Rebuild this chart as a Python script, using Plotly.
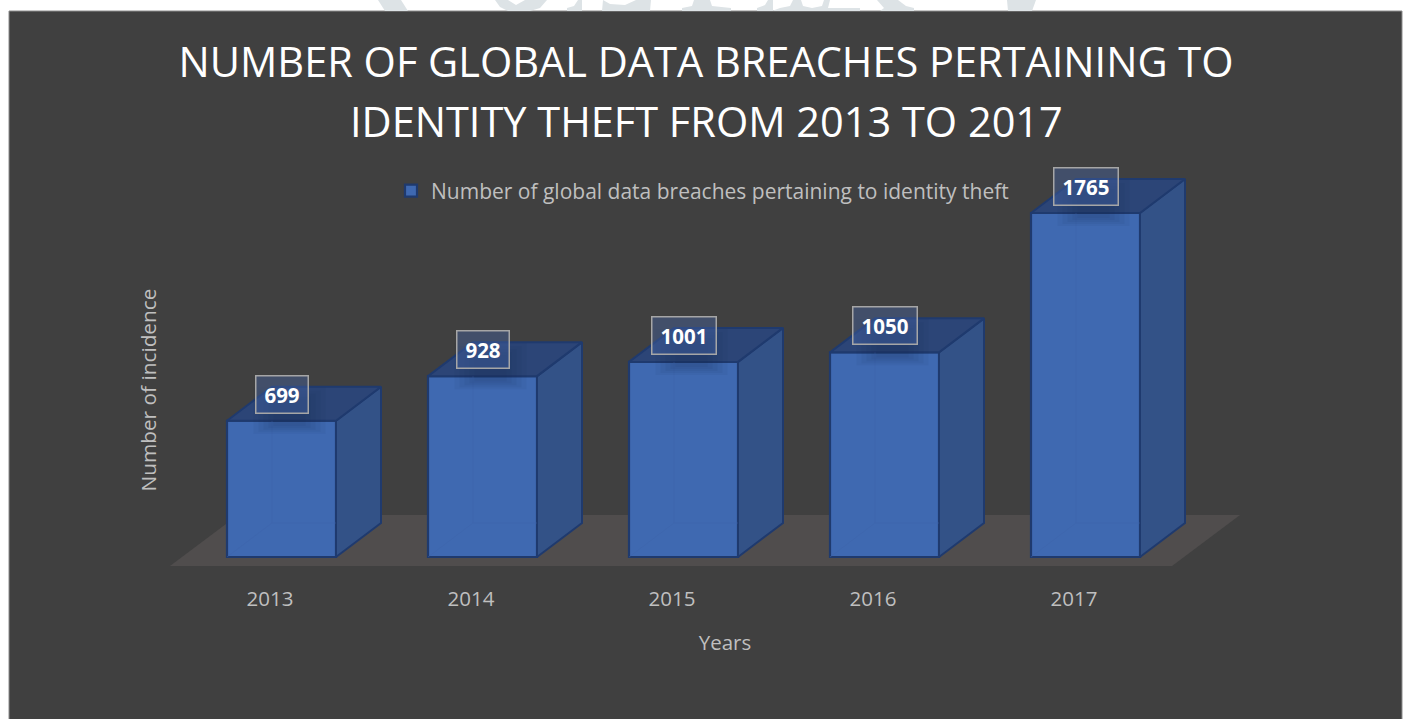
import plotly.graph_objects as go

# Chart data
years = [2013, 2014, 2015, 2016, 2017]
incidents = [699, 928, 1001, 1050, 1765]
series_name = "Number of global data breaches pertaining to identity theft"
title_line_1 = "NUMBER OF GLOBAL DATA BREACHES PERTAINING TO"
title_line_2 = "IDENTITY THEFT FROM 2013 TO 2017"

W, H = 1405, 719

# Scale of the axes, in pixels per data unit
PX_X = 201.0
PX_Y = 344.0 / 1765.0
X0_PX = 270.0    # pixel of the first year tick
Y0_PX = 557.0    # pixel of the zero line


def dx(px):
    return px / PX_X


def dy(px):
    return px / PX_Y


def fx(px):
    return px / W


def fy(px):
    return 1 - px / H


def data_x(px):
    return years[0] + (px - X0_PX) / PX_X


def data_y(px):
    return (Y0_PX - px) / PX_Y


# Bar box geometry in data units
BAR_W = dx(109)
BAR_OFF = dx(-43)
DEPTH_X = dx(45)
DEPTH_Y = dy(34)

BG = "#404040"
FRONT = "#3f69b1"
SIDE = "#335287"
TOP = "#2c4577"
EDGE = "#1f3a6e"
FLOOR = "#504d4d"
TEXT = "#bfbfbf"

# Axis spans: centred so the axis titles land in the middle of each span
L_PX, R_PX = 170.0, 1280.0
B_PX, T_PX = 620.0, 160.0
FLOOR_FRONT_PX = 566.0

fig = go.Figure()

# Front faces
fig.add_trace(go.Bar(
    x=years, y=incidents, width=BAR_W, offset=BAR_OFF, name=series_name,
    marker=dict(color=FRONT, line=dict(color=EDGE, width=2.2)),
    hoverinfo="x+y", showlegend=True,
))

# Right and top faces and the faint hidden edges, all derived from the values
for year, value in zip(years, incidents):
    x1 = year + BAR_OFF
    x2 = x1 + BAR_W
    fig.add_trace(go.Scatter(
        x=[x2, x2 + DEPTH_X, x2 + DEPTH_X, x2, x2],
        y=[0, DEPTH_Y, value + DEPTH_Y, value, 0],
        mode="lines", fill="toself", fillcolor=SIDE,
        line=dict(color=EDGE, width=2),
        showlegend=False, hoverinfo="skip",
    ))
    fig.add_trace(go.Scatter(
        x=[x1, x1 + DEPTH_X, x2 + DEPTH_X, x2, x1],
        y=[value, value + DEPTH_Y, value + DEPTH_Y, value, value],
        mode="lines", fill="toself", fillcolor=TOP,
        line=dict(color=EDGE, width=2),
        showlegend=False, hoverinfo="skip",
    ))
    fig.add_trace(go.Scatter(
        x=[x1, x1 + DEPTH_X, x2, None, x1 + DEPTH_X, x1 + DEPTH_X],
        y=[0, DEPTH_Y, DEPTH_Y, None, DEPTH_Y, value],
        mode="lines", line=dict(color="rgba(62,100,170,0.45)", width=1),
        showlegend=False, hoverinfo="skip",
    ))

# Soft shadow cast by each value label: nested translucent rectangles
for step in range(5):
    xs, ys = [], []
    for year, value in zip(years, incidents):
        cx = year + BAR_OFF + BAR_W / 2 + dx(8)
        half = dx(36 - 5 * step)
        top = value + DEPTH_Y - dy(1 + 3 * step)
        bottom = value - dy(13 - 2 * step)
        xs += [cx - half, cx + half, cx + half, cx - half, cx - half, None]
        ys += [bottom, bottom, top, top, bottom, None]
    fig.add_trace(go.Scatter(
        x=xs, y=ys, mode="none", fill="toself", fillcolor="rgba(20,35,70,0.055)",
        showlegend=False, hoverinfo="skip",
    ))

# Value labels sitting above each bar
annotations = []
for year, value in zip(years, incidents):
    text = str(value)
    annotations.append(dict(
        x=year + BAR_OFF + BAR_W / 2, y=value + dy(26.5), xref="x", yref="y",
        text=f"<b>{text}</b>", showarrow=False,
        font=dict(family="Open Sans", size=20.5, color="white"),
        bgcolor="rgba(70,100,165,0.42)",
        bordercolor="#a6a6a6", borderwidth=1.5,
        width=51 if len(text) == 3 else 63, height=36, borderpad=0,
        xanchor="center", yanchor="middle", valign="middle",
    ))

# Second title line
annotations.append(dict(
    x=fx(706), y=fy(121), xref="paper", yref="paper", text=title_line_2,
    showarrow=False, xanchor="center", yanchor="middle",
    font=dict(family="Open Sans", size=41.5, color="white"),
))

# Panel, floor and the pale letter fragments along the top edge
shapes = [
    dict(type="rect", xref="paper", yref="paper", layer="below",
         x0=fx(9), x1=fx(1402), y0=fy(725), y1=fy(11),
         fillcolor=BG, line=dict(color="#8c8c8c", width=1)),
    dict(type="path", xref="x", yref="y", layer="below", fillcolor=FLOOR,
         line=dict(width=0),
         path=(f"M{data_x(170)},{data_y(566)} L{data_x(1172)},{data_y(566)} "
               f"L{data_x(1240)},{data_y(515)} L{data_x(238)},{data_y(515)} Z")),
]

watermark_polys = [
    [(378, 0), (401, 0), (408, 11), (385, 11)],
    [(495, 0), (508, 0), (516, 5), (525, 0), (547, 0), (540, 8), (530, 11), (508, 11), (500, 7)],
    [(567, 11), (567, 8), (574, 6), (578, 0), (582, 0), (582, 11)],
    [(603, 0), (610, 4), (625, 5), (636, 0), (651, 0), (650, 11), (602, 11)],
    [(682, 11), (682, 8), (692, 6), (694, 0), (702, 0), (710, 0), (712, 6), (731, 8), (731, 11)],
    [(757, 11), (757, 8), (765, 5), (768, 0), (773, 0), (773, 11)],
    [(793, 0), (801, 0), (803, 6), (812, 8), (812, 11), (772, 11), (780, 8), (790, 6)],
    [(812, 11), (812, 8), (822, 6), (824, 0), (830, 0), (828, 8), (860, 8), (860, 11)],
    [(877, 0), (898, 0), (906, 6), (914, 8), (914, 11), (880, 11), (884, 8)],
    [(1007, 0), (1036, 0), (1032, 11), (1008, 11)],
]
for poly in watermark_polys:
    path = "M" + " L".join(f"{fx(px)},{fy(py)}" for px, py in poly) + " Z"
    shapes.append(dict(type="path", xref="paper", yref="paper", layer="below",
                       path=path, fillcolor="#dde3e6", line=dict(width=0)))

fig.update_layout(
    width=W, height=H,
    margin=dict(l=0, r=0, t=0, b=0),
    paper_bgcolor="white", plot_bgcolor="rgba(0,0,0,0)",
    font=dict(family="Open Sans", color=TEXT),
    title=dict(
        text=title_line_1, x=fx(706), xanchor="center", y=fy(62), yanchor="middle",
        font=dict(family="Open Sans", size=41.5, color="white"),
    ),
    legend=dict(
        orientation="h", x=fx(391), xanchor="left", y=fy(191), yanchor="middle",
        font=dict(size=21, color=TEXT), bgcolor="rgba(0,0,0,0)",
    ),
    xaxis=dict(
        domain=[fx(L_PX), fx(R_PX)],
        range=[data_x(L_PX), data_x(R_PX)],
        anchor="free", position=fy(FLOOR_FRONT_PX),
        tickmode="array", tickvals=years, ticktext=[str(y) for y in years],
        showgrid=False, zeroline=False, showline=False, ticks="",
        ticklabelstandoff=18,
        tickfont=dict(size=20.5, color=TEXT),
        title=dict(text="Years", font=dict(size=20.5, color=TEXT), standoff=25),
    ),
    yaxis=dict(
        domain=[fy(B_PX), fy(T_PX)],
        range=[data_y(B_PX), data_y(T_PX)],
        showgrid=False, zeroline=False, showline=False, showticklabels=False, ticks="",
        title=dict(text="Number of incidence", font=dict(size=20.8, color=TEXT), standoff=6),
    ),
    showlegend=True,
    shapes=shapes,
    annotations=annotations,
)

fig.write_html("out.html")
